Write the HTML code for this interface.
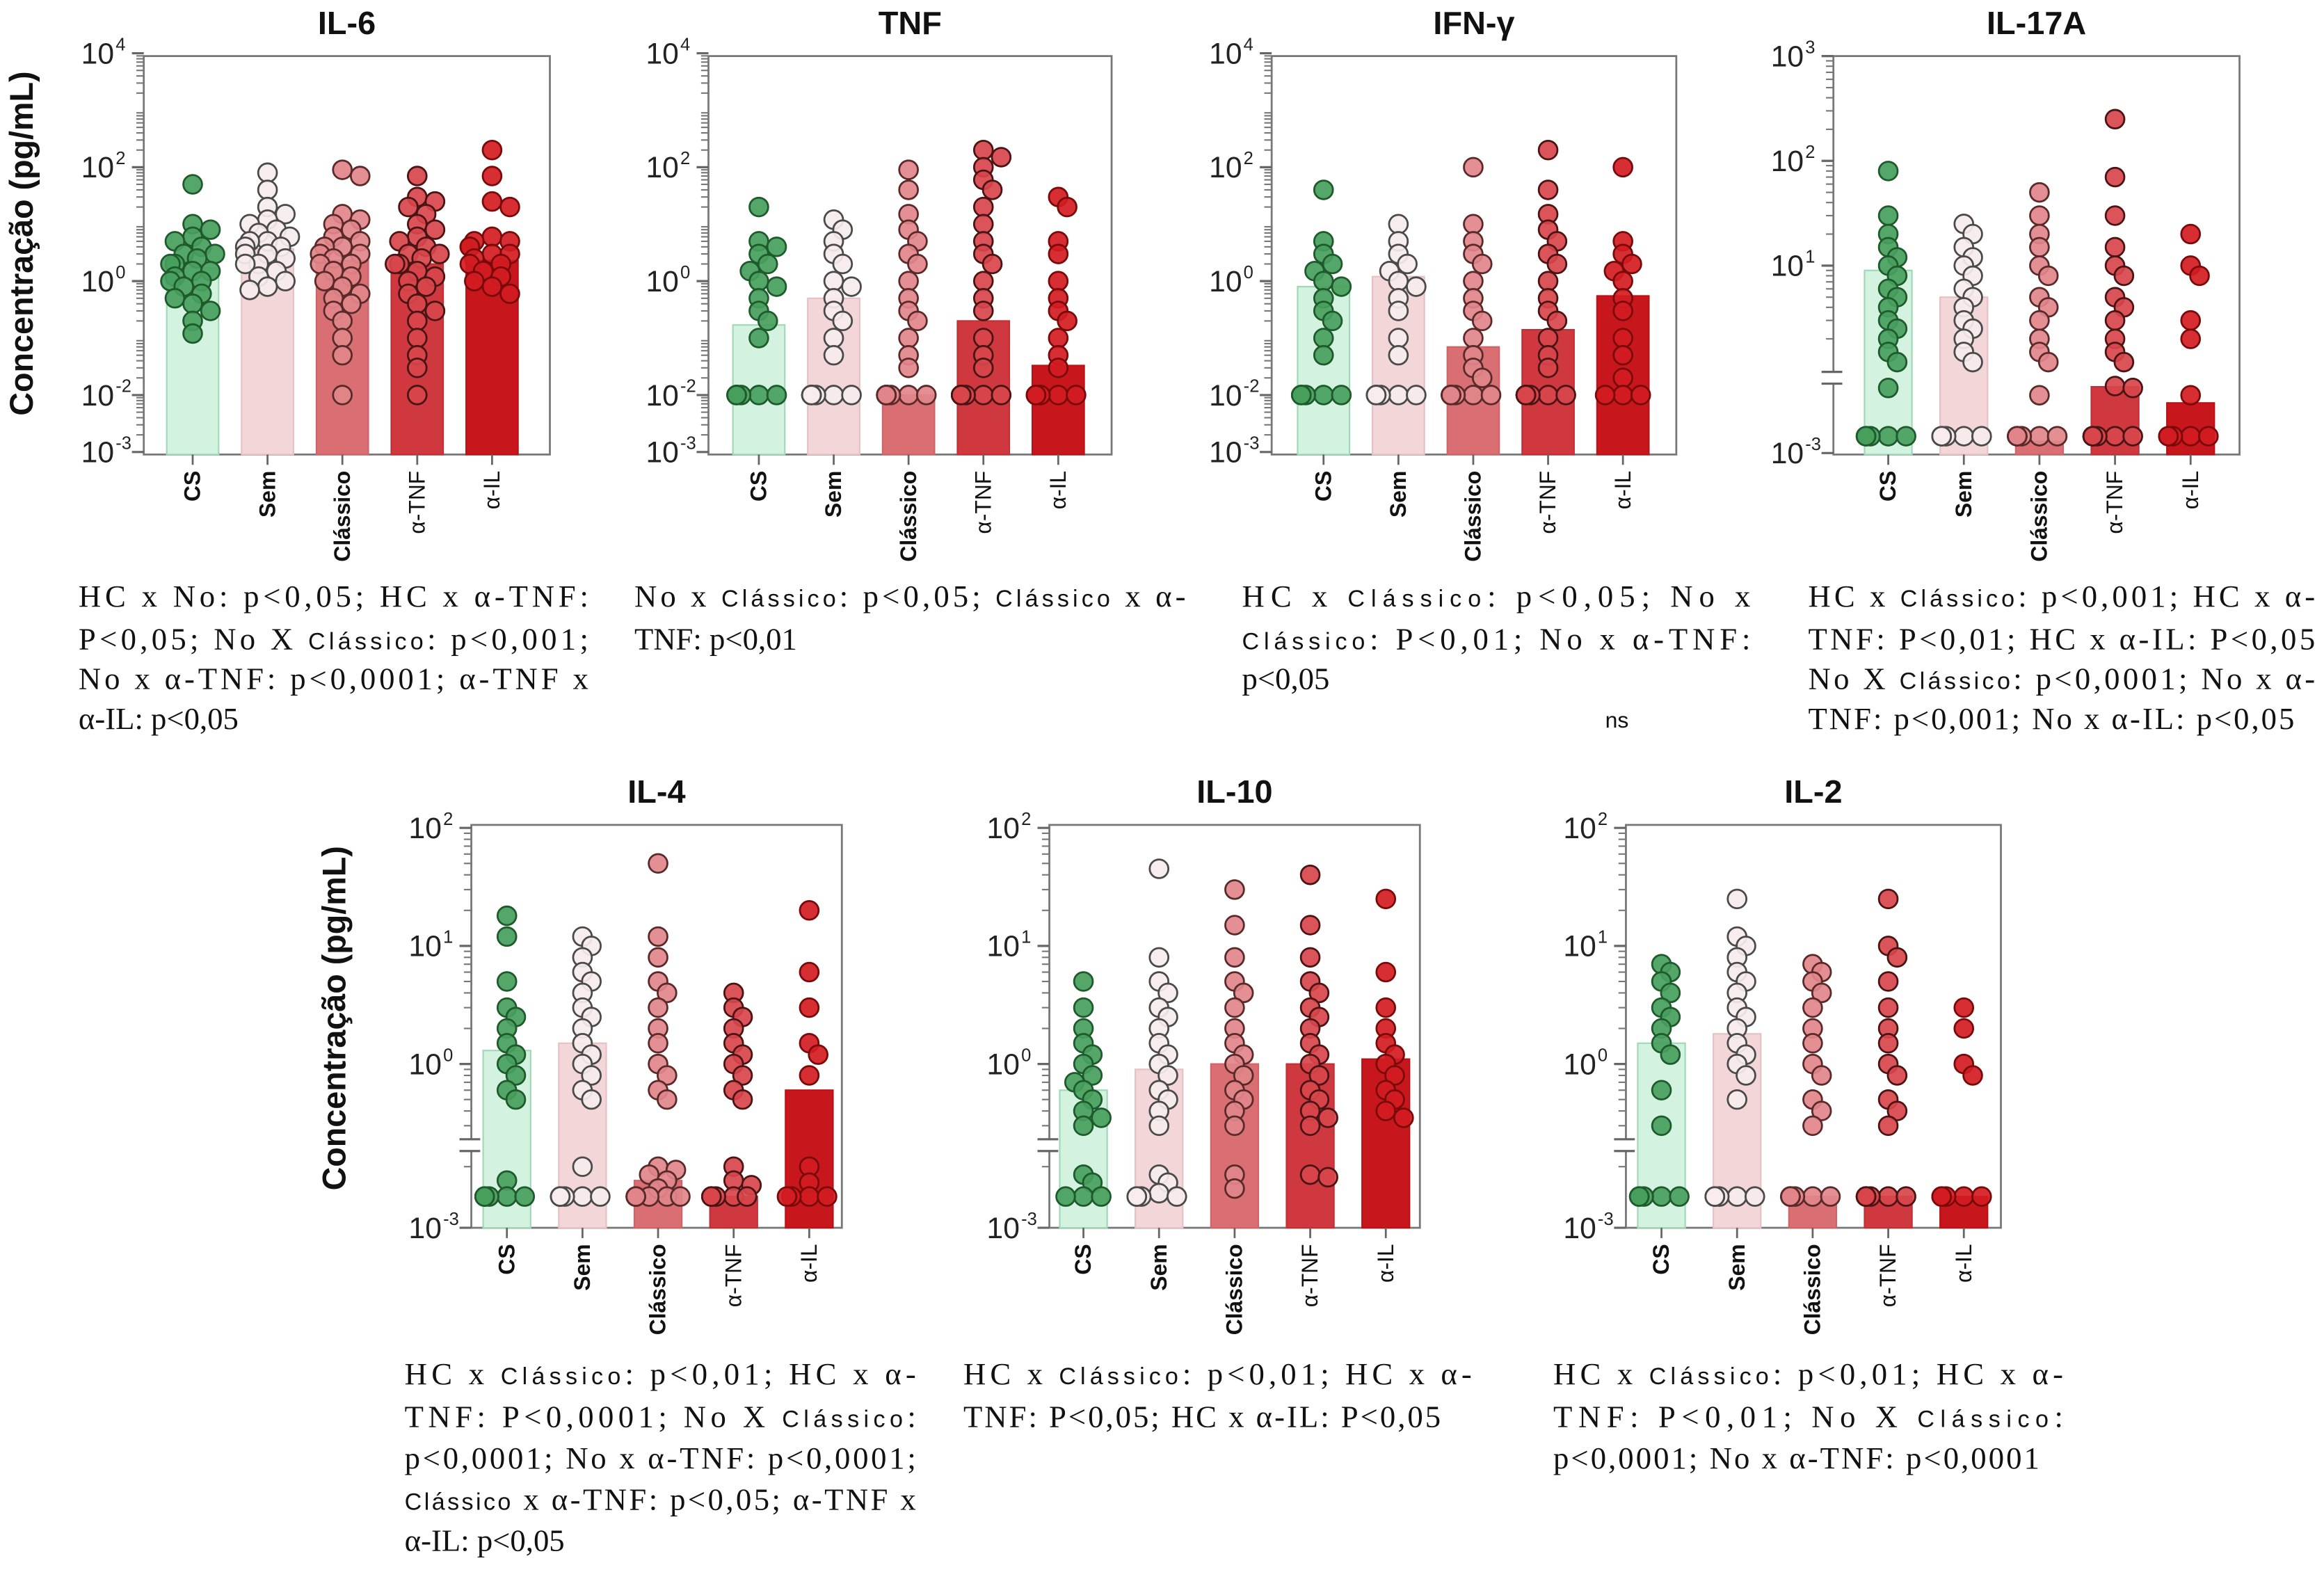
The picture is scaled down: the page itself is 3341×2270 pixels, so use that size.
<!DOCTYPE html>
<html><head><meta charset="utf-8"><style>
html,body{margin:0;padding:0;background:#fff;}
svg{display:block;}
.tk{font-family:"Liberation Sans",sans-serif;font-size:20px;fill:#222;}
.tt{font-family:"Liberation Sans",sans-serif;font-size:22px;font-weight:600;fill:#111;}
.xl{font-family:"Liberation Sans",sans-serif;font-size:15px;font-weight:bold;fill:#111;}
.yt{font-family:"Liberation Sans",sans-serif;font-size:22px;font-weight:bold;fill:#111;}
.an{font-family:"Liberation Serif",serif;font-size:21px;fill:#111;}
.cl{font-family:"Liberation Sans",sans-serif;font-size:16px;}
</style></head><body>
<svg id="fig" width="3341" height="2270" viewBox="0 0 1568 1070" preserveAspectRatio="none" xmlns="http://www.w3.org/2000/svg">
<text class="yt" transform="translate(22,165) rotate(-90)" text-anchor="middle">Concentração (pg/mL)</text>
<text class="yt" transform="translate(233,690) rotate(-90)" text-anchor="middle">Concentração (pg/mL)</text>
<g id="charts"></g>
<g id="notes">
<text class="an" x="53" y="411" textLength="344" lengthAdjust="spacing">HC x No: p&lt;0,05; HC x α-TNF:</text>
<text class="an" x="53" y="440" textLength="344" lengthAdjust="spacing">P&lt;0,05; No X <tspan class="cl">Clássico</tspan>: p&lt;0,001;</text>
<text class="an" x="53" y="467" textLength="344" lengthAdjust="spacing">No x α-TNF: p&lt;0,0001; α-TNF x</text>
<text class="an" x="53" y="494">α-IL: p&lt;0,05</text>
<text class="an" x="428" y="411" textLength="372" lengthAdjust="spacing">No x <tspan class="cl">Clássico</tspan>: p&lt;0,05; <tspan class="cl">Clássico</tspan> x α-</text>
<text class="an" x="428" y="440">TNF: p&lt;0,01</text>
<text class="an" x="838" y="411" textLength="343" lengthAdjust="spacing">HC x <tspan class="cl">Clássico</tspan>: p&lt;0,05; No x</text>
<text class="an" x="838" y="440" textLength="343" lengthAdjust="spacing"><tspan class="cl">Clássico</tspan>: P&lt;0,01; No x α-TNF:</text>
<text class="an" x="838" y="467">p&lt;0,05</text>
<text class="an" x="1083" y="493" style="font-size:15px;font-family:'Liberation Sans',sans-serif;">ns</text>
<text class="an" x="1220" y="411" textLength="342" lengthAdjust="spacing">HC x <tspan class="cl">Clássico</tspan>: p&lt;0,001; HC x α-</text>
<text class="an" x="1220" y="440" textLength="342" lengthAdjust="spacing">TNF: P&lt;0,01; HC x α-IL: P&lt;0,05</text>
<text class="an" x="1220" y="467" textLength="342" lengthAdjust="spacing">No X <tspan class="cl">Clássico</tspan>: p&lt;0,0001; No x α-</text>
<text class="an" x="1220" y="494" textLength="328" lengthAdjust="spacing">TNF: p&lt;0,001; No x α-IL: p&lt;0,05</text>
<text class="an" x="273" y="938" textLength="345" lengthAdjust="spacing">HC x <tspan class="cl">Clássico</tspan>: p&lt;0,01; HC x α-</text>
<text class="an" x="273" y="967" textLength="345" lengthAdjust="spacing">TNF: P&lt;0,0001; No X <tspan class="cl">Clássico</tspan>:</text>
<text class="an" x="273" y="995" textLength="345" lengthAdjust="spacing">p&lt;0,0001; No x α-TNF: p&lt;0,0001;</text>
<text class="an" x="273" y="1023" textLength="345" lengthAdjust="spacing"><tspan class="cl">Clássico</tspan> x α-TNF: p&lt;0,05; α-TNF x</text>
<text class="an" x="273" y="1051">α-IL: p&lt;0,05</text>
<text class="an" x="650" y="938" textLength="343" lengthAdjust="spacing">HC x <tspan class="cl">Clássico</tspan>: p&lt;0,01; HC x α-</text>
<text class="an" x="650" y="967" textLength="322" lengthAdjust="spacing">TNF: P&lt;0,05; HC x α-IL: P&lt;0,05</text>
<text class="an" x="1048" y="938" textLength="344" lengthAdjust="spacing">HC x <tspan class="cl">Clássico</tspan>: p&lt;0,01; HC x α-</text>
<text class="an" x="1048" y="967" textLength="344" lengthAdjust="spacing">TNF: P&lt;0,01; No X <tspan class="cl">Clássico</tspan>:</text>
<text class="an" x="1048" y="995" textLength="328" lengthAdjust="spacing">p&lt;0,0001; No x α-TNF: p&lt;0,0001</text>
</g>
</svg>
<script>
const categories = ['CS','Sem','Clássico','α-TNF','α-IL'];
const il6Bars = [1.7, 3.7, 2.3, 2.0, 2.3];
const il6Points = [
 [50,10,8,6,5,4,3,3,2.5,2,2,1.5,1.5,1.2,1,1,0.8,0.6,0.5,0.4,0.3,0.2,0.12],
 [80,40,20,15,12,10,8,7,6,5,5,4,4,3,3,2.5,2,2,1.5,1.2,1,0.8,0.7],
 [90,70,15,12,10,8,6,5,4,4,3,3,2.5,2,2,1.5,1.2,1,0.8,0.6,0.5,0.4,0.3,0.2,0.1,0.05,0.01],
 [70,30,25,20,15,10,8,6,5,4,3,3,2.5,2,2,1.5,1.2,1,0.8,0.6,0.4,0.3,0.2,0.1,0.05,0.03,0.01],
 [200,70,25,20,6,5,5,4,4,3,3,2.5,2,2,1.5,1.2,1,0.8,0.6]];
const tnfBars = [0.17, 0.5, 0.01, 0.2, 0.033];
const tnfPoints = [
 [20,5,4,3,2,1.5,1,0.8,0.5,0.3,0.2,0.1,0.01,0.01,0.01,0.01,0.01,0.01,0.01,0.01],
 [12,8,5,3,2,1,0.8,0.5,0.3,0.2,0.1,0.05,0.01,0.01,0.01,0.01,0.01,0.01,0.01,0.01],
 [90,40,15,8,5,3,2,1,0.5,0.3,0.2,0.1,0.05,0.03,0.01,0.01,0.01,0.01,0.01,0.01,0.01,0.01,0.01,0.01],
 [200,150,100,60,40,20,10,5,3,2,1,0.5,0.3,0.1,0.05,0.03,0.01,0.01,0.01,0.01,0.01,0.01,0.01,0.01,0.01,0.01],
 [30,20,5,3,1,0.5,0.3,0.2,0.1,0.05,0.03,0.01,0.01,0.01,0.01,0.01]];
const ifnBars = [0.8, 1.2, 0.07, 0.14, 0.55];
const ifnPoints = [
 [40,5,3,2,1.5,1,0.8,0.5,0.3,0.2,0.1,0.05,0.01,0.01,0.01,0.01,0.01,0.01],
 [10,5,3,2,1.5,1,0.8,0.5,0.3,0.1,0.05,0.01,0.01,0.01,0.01,0.01,0.01],
 [100,10,5,3,2,1,0.5,0.3,0.2,0.1,0.05,0.03,0.02,0.01,0.01,0.01,0.01,0.01,0.01,0.01,0.01],
 [200,40,15,8,5,3,2,1,0.5,0.3,0.2,0.1,0.05,0.03,0.01,0.01,0.01,0.01,0.01,0.01,0.01,0.01],
 [100,5,3,2,1.5,1,0.5,0.3,0.1,0.05,0.02,0.01,0.01,0.01]];
const il17Bars = [9, 5, 0.003, 0.56, 0.12];
const il17Points = [
 [80,30,20,15,12,10,8,6,5,4,3,2.5,2,1.5,1.2,0.5,0.005,0.005,0.005,0.005,0.005,0.005],
 [25,20,15,12,10,8,6,5,4,3,2.5,2,1.5,1.2,0.005,0.005,0.005,0.005,0.005,0.005],
 [50,30,20,15,10,8,5,4,3,2,1.5,1.2,0.25,0.005,0.005,0.005,0.005,0.005,0.005,0.005,0.005],
 [250,70,30,15,10,8,5,4,3,2,1.5,1.2,0.6,0.5,0.005,0.005,0.005,0.005,0.005,0.005,0.005,0.005],
 [20,10,8,3,2,0.25,0.005,0.005,0.005,0.005,0.005]];
const il4Bars = [1.3, 1.5, 0.06, 0.015, 0.6];
const il4Points = [
 [18,12,5,3,2.5,2,1.5,1.2,1,0.8,0.6,0.5,0.06,0.015,0.015,0.015,0.015,0.015,0.015],
 [12,10,8,6,5,4,3,2.5,2,1.5,1.2,1,0.8,0.6,0.5,0.2,0.015,0.015,0.015,0.015,0.015,0.015],
 [50,12,8,5,4,3,2,1.5,1,0.8,0.6,0.5,0.2,0.15,0.1,0.06,0.03,0.015,0.015,0.015,0.015,0.015,0.015,0.015],
 [4,3,2.5,2,1.5,1.2,1,0.8,0.6,0.5,0.2,0.06,0.04,0.015,0.015,0.015,0.015,0.015,0.015],
 [20,6,3,1.5,1.2,0.8,0.2,0.05,0.015,0.015,0.015,0.015]];
const il10Bars = [0.6, 0.9, 1.0, 1.0, 1.1];
const il10Points = [
 [5,3,2,1.5,1.2,1,0.8,0.7,0.6,0.5,0.4,0.35,0.3,0.1,0.05,0.015,0.015,0.015],
 [45,8,5,4,3,2.5,2,1.5,1.2,1,0.8,0.6,0.5,0.4,0.3,0.1,0.05,0.02,0.015,0.015,0.015,0.015],
 [30,15,8,5,4,3,2,1.5,1.2,1,0.8,0.6,0.5,0.4,0.3,0.1,0.03],
 [40,15,8,5,4,3,2.5,2,1.5,1.2,1,0.8,0.6,0.5,0.4,0.35,0.3,0.1,0.08],
 [25,6,3,2,1.5,1.2,1,0.8,0.6,0.5,0.4,0.35]];
const il2Bars = [1.5, 1.8, 0.015, 0.015, 0.015];
const il2Points = [
 [7,6,5,4,3,2.5,2,1.5,1.2,0.6,0.3,0.015,0.015,0.015,0.015,0.015],
 [25,12,10,8,6,5,4,3,2.5,2,1.5,1.2,1,0.8,0.5,0.015,0.015,0.015,0.015,0.015,0.015],
 [7,6,5,4,3,2,1.5,1,0.8,0.5,0.4,0.3,0.015,0.015,0.015,0.015,0.015,0.015,0.015,0.015],
 [25,10,8,5,3,2,1.5,1,0.8,0.5,0.4,0.3,0.015,0.015,0.015,0.015,0.015,0.015,0.015,0.015],
 [3,2,1,0.8,0.015,0.015,0.015,0.015,0.015]];
const topTicks = [4,2,0,-2,-3];
const il17Ticks = [3,2,1,-3];
const bottomTicks = [2,1,0,-3];

const NS='http://www.w3.org/2000/svg';
const root=document.getElementById('charts');
const barFill=['#d3f3e0','#f2d6d8','#d96f72','#cf383e','#c8171c'];
const barStroke=['#9fd8b5','#e6c0c3','#cf6367','#c22f35','#b81217'];
const dotFill=['#46a05c','#f7ecec','#e2868a','#d8454b','#d21c22'];
const dotStroke=['#1f5a2d','#4a4a4a','#5a2a2a','#4a1414','#7a0a0a'];
function mk(tag,attrs,parent){const e=document.createElementNS(NS,tag);for(const k in attrs)e.setAttribute(k,attrs[k]);(parent||root).appendChild(e);return e;}

function panel(cfg){
  const g=mk('g',{});
  
  
  const yOf=cfg.y;
  const fr=mk('rect',{x:cfg.x0,y:cfg.top,width:cfg.x1-cfg.x0,height:cfg.bot-cfg.top,fill:'none',stroke:'#777','stroke-width':1.3},g);
  
  
  const t=mk('text',{x:(cfg.x0+cfg.x1)/2,y:cfg.top-15,'text-anchor':'middle',class:'tt'},g);
  t.textContent=cfg.title;
  
  
  for(let d=cfg.minorFrom; d<cfg.minorTo; d++){
    for(let m=2;m<=9;m++){const yy=yOf(Math.pow(10,d)*m); mk('line',{x1:cfg.x0-5,x2:cfg.x0,y1:yy,y2:yy,stroke:'#777','stroke-width':1},g);}
  }
  cfg.ticks.forEach(p=>{
    const yy=yOf(Math.pow(10,p));
    mk('line',{x1:cfg.x0-8,x2:cfg.x0,y1:yy,y2:yy,stroke:'#666','stroke-width':1.5},g);
    const tx=mk('text',{x:cfg.x0-20,y:yy+7,'text-anchor':'end',class:'tk'},g);
    tx.textContent='10';
    
    
    const sp=mk('text',{x:cfg.x0-19,y:yy-2,class:'tk',style:'font-size:12px'},g);
    sp.textContent=String(p);
  });
  if(cfg.brk){
    const b=cfg.brk;
    mk('rect',{x:cfg.x0-3,y:b-4,width:6,height:8,fill:'#fff'},g);
    mk('line',{x1:cfg.x0-8,x2:cfg.x0+6,y1:b-4,y2:b-4,stroke:'#666','stroke-width':1.5},g);
    mk('line',{x1:cfg.x0-8,x2:cfg.x0+6,y1:b+4,y2:b+4,stroke:'#666','stroke-width':1.5},g);
  }
  const step=cfg.step, bw=cfg.bw;
  categories.forEach((c,i)=>{
    const cx=cfg.cx0+i*step;
    const by=yOf(cfg.bars[i]);
    const bar=mk('rect',{x:cx-bw/2,y:by,width:bw,height:cfg.bot-by,fill:barFill[i],stroke:barStroke[i],'stroke-width':1},g);
    
    
    mk('line',{x1:cx,x2:cx,y1:cfg.bot,y2:cfg.bot+7,stroke:'#666','stroke-width':1.3},g);
    const xl=mk('text',{transform:'translate('+(cx+5)+','+(cfg.bot+11)+') rotate(-90)','text-anchor':'end',class:'xl',style:(i>=3?'font-weight:normal':'')},g);
    xl.textContent=c;
    
    
    const placed=[];
    const pts=cfg.points[i].slice().sort((a,b)=>b-a);
    pts.forEach(v=>{
      const py=yOf(v);
      let off=0;
      const cands=[0,6,-6,12,-12,3,-3,9,-9,15,-15];
      for(const o of cands){ if(!placed.some(p=>Math.hypot(p[0]-o,p[1]-py)<8)){off=o;break;} off=o; }
      placed.push([off,py]);
      const d=mk('circle',{cx:cx+off,cy:py,r:6.3,fill:dotFill[i],stroke:dotStroke[i],'stroke-width':1.3,'fill-opacity':0.92},g);
      
      
    });
  });
}
function topLog(v){return 190.5-38.6*Math.log10(v);}
function il17Y(v){const l=Math.log10(v); return l>=0?180-71*(l-1):258-l*(307-258)/3;}
function botY(v){const l=Math.log10(v); return l>=-0.6?721-80*l:832-(l+3)*18;}
const topBase={top:38,bot:308,ticks:topTicks,y:topLog,step:50.5,bw:35,minorFrom:-3,minorTo:4};
panel(Object.assign({},topBase,{key:'il6',title:'IL-6',x0:97,x1:371,cx0:130,bars:il6Bars,points:il6Points}));
panel(Object.assign({},topBase,{key:'tnf',title:'TNF',x0:478,x1:750,cx0:512,bars:tnfBars,points:tnfPoints}));
panel(Object.assign({},topBase,{key:'ifn',title:'IFN-γ',x0:858,x1:1131,cx0:893,bars:ifnBars,points:ifnPoints}));
panel({key:'il17',title:'IL-17A',x0:1237,x1:1511,top:38,bot:308,cx0:1274,step:51,bw:32,ticks:il17Ticks,y:il17Y,bars:il17Bars,points:il17Points,minorFrom:0,minorTo:3,brk:256});
const botBase={top:559,bot:832,ticks:bottomTicks,y:botY,step:51,bw:32,minorFrom:-1,minorTo:2,brk:776};
panel(Object.assign({},botBase,{key:'il4',title:'IL-4',x0:318,x1:568,cx0:342,bars:il4Bars,points:il4Points}));
panel(Object.assign({},botBase,{key:'il10',title:'IL-10',x0:708,x1:958,cx0:731,bars:il10Bars,points:il10Points}));
panel(Object.assign({},botBase,{key:'il2',title:'IL-2',x0:1097,x1:1350,cx0:1121,bars:il2Bars,points:il2Points}));
</script>
</body></html>
